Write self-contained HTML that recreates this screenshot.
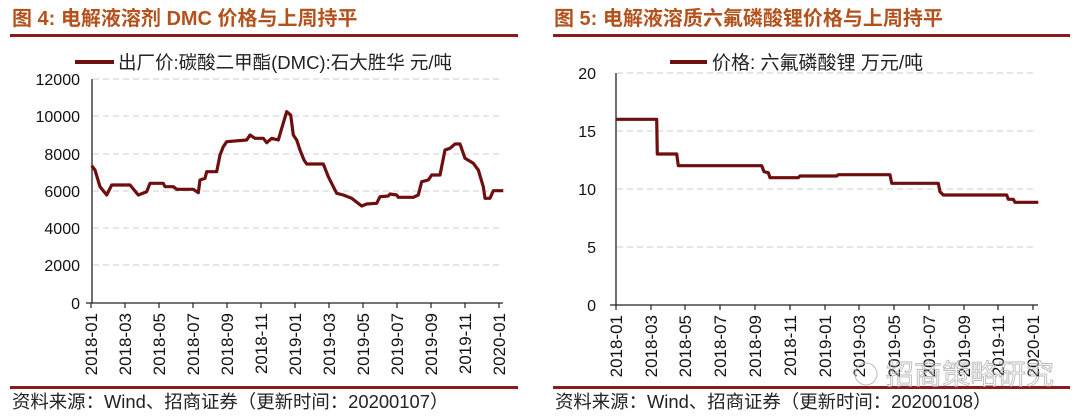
<!DOCTYPE html>
<html><head><meta charset="utf-8"><style>
html,body{margin:0;padding:0;background:#fff;}
svg{display:block;}
text{font-family:"Liberation Sans","Noto Sans CJK SC",sans-serif;}
</style></head><body>
<svg width="1080" height="420" viewBox="0 0 1080 420" xmlns="http://www.w3.org/2000/svg">
<!-- Titles -->
<text x="12" y="25" font-size="20" font-weight="bold" fill="#b4521d">图 4:  电解液溶剂 DMC 价格与上周持平</text>
<text x="554" y="25" font-size="20" font-weight="bold" fill="#b4521d">图 5:  电解液溶质六氟磷酸锂价格与上周持平</text>
<rect x="10" y="34" width="508" height="3" fill="#8b1a1a"/>
<rect x="553" y="34" width="517" height="3" fill="#8b1a1a"/>
<rect x="10" y="386" width="508" height="3" fill="#8b1a1a"/>
<rect x="553" y="386" width="517" height="3" fill="#8b1a1a"/>
<text x="12" y="408" font-size="18.4" fill="#222">资料来源：Wind、招商证券（更新时间：20200107）</text>
<text x="555" y="408" font-size="18.4" fill="#222">资料来源：Wind、招商证券（更新时间：20200108）</text>

<!-- LEFT chart -->
<g stroke="#ccc" stroke-width="1" stroke-dasharray="6,4">
<line x1="93" y1="79" x2="502" y2="79"/><line x1="93" y1="116" x2="502" y2="116"/>
<line x1="93" y1="154" x2="502" y2="154"/><line x1="93" y1="191" x2="502" y2="191"/>
<line x1="93" y1="228" x2="502" y2="228"/><line x1="93" y1="265" x2="502" y2="265"/>
</g>
<g font-size="16" fill="#111" text-anchor="end">
<text x="80" y="85">12000</text><text x="80" y="122">10000</text><text x="80" y="160">8000</text>
<text x="80" y="197">6000</text><text x="80" y="234">4000</text><text x="80" y="271">2000</text><text x="80" y="309">0</text>
</g>
<line x1="92" y1="79" x2="92" y2="303" stroke="#222" stroke-width="1.3"/>
<line x1="86" y1="303" x2="503" y2="303" stroke="#222" stroke-width="1.3"/>
<g stroke="#222" stroke-width="1.2">
<line x1="91" y1="303" x2="91" y2="308"/><line x1="125" y1="303" x2="125" y2="308"/><line x1="159" y1="303" x2="159" y2="308"/>
<line x1="193" y1="303" x2="193" y2="308"/><line x1="227" y1="303" x2="227" y2="308"/><line x1="261" y1="303" x2="261" y2="308"/>
<line x1="295" y1="303" x2="295" y2="308"/><line x1="329" y1="303" x2="329" y2="308"/><line x1="363" y1="303" x2="363" y2="308"/>
<line x1="397" y1="303" x2="397" y2="308"/><line x1="431" y1="303" x2="431" y2="308"/><line x1="465" y1="303" x2="465" y2="308"/>
<line x1="499" y1="303" x2="499" y2="308"/>
</g>
<g font-size="17" fill="#111" text-anchor="end">
<text transform="translate(97,313) rotate(-90)">2018-01</text>
<text transform="translate(131,313) rotate(-90)">2018-03</text>
<text transform="translate(165,313) rotate(-90)">2018-05</text>
<text transform="translate(199,313) rotate(-90)">2018-07</text>
<text transform="translate(233,313) rotate(-90)">2018-09</text>
<text transform="translate(267,313) rotate(-90)">2018-11</text>
<text transform="translate(301,313) rotate(-90)">2019-01</text>
<text transform="translate(335,313) rotate(-90)">2019-03</text>
<text transform="translate(369,313) rotate(-90)">2019-05</text>
<text transform="translate(403,313) rotate(-90)">2019-07</text>
<text transform="translate(437,313) rotate(-90)">2019-09</text>
<text transform="translate(471,313) rotate(-90)">2019-11</text>
<text transform="translate(505,313) rotate(-90)">2020-01</text>
</g>
<line x1="75" y1="62" x2="114" y2="62" stroke="#6e0f0f" stroke-width="4"/>
<text x="118" y="69" font-size="18.5" fill="#222">出厂价:碳酸二甲酯(DMC):石大胜华 元/吨</text>
<polyline fill="none" stroke="#6e0f0f" stroke-width="3.2" stroke-linejoin="round" points="91.7,165.7 95,170 100,186.7 106.7,195 111.7,185 115,185 130,185 138.3,195 146.7,191.7 150,183.3 163.3,183.3 165,186.7 173.3,186.7 176.7,189.3 193.3,189.3 198.3,192.7 200,180 205,178.3 206.7,171.7 216.7,171.7 220,155 223.3,146.7 226.7,141.7 246.7,140 250,135 255,138.3 263.3,138.3 266.7,142.7 271.7,138.3 278.3,140 281.7,128.3 286.7,111.7 290.7,115 293.3,135 296.7,140 300,150 304,160 306.7,164 323.3,164 328.3,176.7 333.3,186.7 336.7,193.3 343.3,195 351.7,198.3 361.7,206 366.7,204 376.7,203.3 380,196.7 388.3,196 390,194 396.7,195 398.3,197.3 413.3,197.3 418.3,195 421.7,181.7 428.3,180 431.7,175 440,175 445,150 450,148.3 455,144 460,144 465,158.3 473.3,163.3 478.3,170 483.3,186.7 485,198.3 490,198.3 493.3,190.7 503.3,190.7"/>

<!-- RIGHT chart -->
<g stroke="#ccc" stroke-width="1" stroke-dasharray="6,4">
<line x1="617" y1="73" x2="1036" y2="73"/><line x1="617" y1="131" x2="1036" y2="131"/>
<line x1="617" y1="189" x2="1036" y2="189"/><line x1="617" y1="247" x2="1036" y2="247"/>
</g>
<g font-size="16" fill="#111" text-anchor="end">
<text x="596" y="79">20</text><text x="596" y="137">15</text><text x="596" y="195">10</text>
<text x="596" y="253">5</text><text x="596" y="311">0</text>
</g>
<line x1="616" y1="73" x2="616" y2="305" stroke="#222" stroke-width="1.3"/>
<line x1="610" y1="305" x2="1038" y2="305" stroke="#222" stroke-width="1.3"/>
<g stroke="#222" stroke-width="1.2">
<line x1="616" y1="305" x2="616" y2="310"/><line x1="651" y1="305" x2="651" y2="310"/><line x1="685" y1="305" x2="685" y2="310"/>
<line x1="720" y1="305" x2="720" y2="310"/><line x1="755" y1="305" x2="755" y2="310"/><line x1="790" y1="305" x2="790" y2="310"/>
<line x1="825" y1="305" x2="825" y2="310"/><line x1="859" y1="305" x2="859" y2="310"/><line x1="894" y1="305" x2="894" y2="310"/>
<line x1="929" y1="305" x2="929" y2="310"/><line x1="964" y1="305" x2="964" y2="310"/><line x1="998" y1="305" x2="998" y2="310"/>
<line x1="1033" y1="305" x2="1033" y2="310"/>
</g>
<g font-size="17" fill="#111" text-anchor="end">
<text transform="translate(622,315) rotate(-90)">2018-01</text>
<text transform="translate(657,315) rotate(-90)">2018-03</text>
<text transform="translate(691,315) rotate(-90)">2018-05</text>
<text transform="translate(726,315) rotate(-90)">2018-07</text>
<text transform="translate(761,315) rotate(-90)">2018-09</text>
<text transform="translate(796,315) rotate(-90)">2018-11</text>
<text transform="translate(831,315) rotate(-90)">2019-01</text>
<text transform="translate(865,315) rotate(-90)">2019-03</text>
<text transform="translate(900,315) rotate(-90)">2019-05</text>
<text transform="translate(935,315) rotate(-90)">2019-07</text>
<text transform="translate(970,315) rotate(-90)">2019-09</text>
<text transform="translate(1004,315) rotate(-90)">2019-11</text>
<text transform="translate(1039,315) rotate(-90)">2020-01</text>
</g>
<line x1="670" y1="62" x2="707" y2="62" stroke="#6e0f0f" stroke-width="4"/>
<text x="712" y="69" font-size="19" fill="#222">价格: 六氟磷酸锂 万元/吨</text>
<polyline fill="none" stroke="#6e0f0f" stroke-width="3.2" stroke-linejoin="round" points="616,119.3 656.7,119.3 657.3,154 676.7,154 678.3,165.7 761.7,165.7 764,171.7 768.3,172.7 770,177.7 798.3,177.7 800,176 836.7,176 838.3,174.7 890,174.7 891.7,183.3 938.3,183.3 940,191.7 943.3,195 1006.7,195 1008.3,199.3 1013.3,199.3 1015,202.3 1038.3,202.3"/>

<!-- watermark -->
<text x="886" y="384" font-size="28" fill="none" stroke="#aaa" stroke-width="0.9" opacity="0.8">招商策略研究</text>
<circle cx="866" cy="374" r="11" fill="none" stroke="#bbb" stroke-width="1"/>
</svg>
</body></html>
